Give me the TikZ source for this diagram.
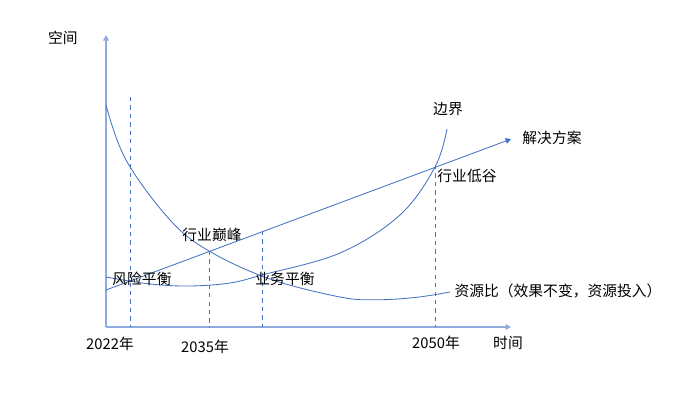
\documentclass[tikz,border=0pt]{standalone}
\usepackage{fontspec}
\setmainfont{Noto Sans CJK SC}
\usetikzlibrary{arrows.meta}
\definecolor{curveblue}{HTML}{4472C4}
\definecolor{axisblue}{HTML}{8FAADC}

\begin{document}
\begin{tikzpicture}[
  axis/.style={axisblue, line width=1.2pt, -{Triangle[length=4pt,width=4pt]}},
  curve/.style={curveblue, line width=0.6pt},
  guide/.style={curveblue, dashed, line width=0.6pt},
  lbl/.style={font=\fontsize{10.5}{12}\selectfont, inner sep=0pt}
]
\useasboundingbox (0,0) rectangle (17.25,9.825);
%\draw[step=0.5cm,gray,very thin] (0,0) grid (17,9); %background grid
%axes
\coordinate (o) at (2.65,1.65);
\coordinate (ytop) at (2.65,8.95);
\coordinate (xend) at (12.78,1.65);
\draw[axis] (o) -- (ytop);
\draw[axis] (o) -- (xend);
\node[lbl] (space) at (1.575,8.875) {空间};
\node[lbl] (time) at (12.7,1.25) {时间};
%years
\node[lbl] (y2022) at (2.75,1.225) {2022年};
\node[lbl] (y2035) at (5.125,1.15) {2035年};
\node[lbl] (y2050) at (10.9,1.25) {2050年};
%guide lines
\coordinate (g1) at (3.25,7.4);
\coordinate (g2) at (5.225,3.55);
\coordinate (g3) at (6.55,4.05);
\coordinate (g4) at (10.875,5.7);
\draw[guide] (g1) -- (g1 |- o);
\draw[guide] (g2) -- (g2 |- o);
\draw[guide] (g3) -- (g3 |- o);
\draw[guide] (g4) -- (g4 |- o);
%solution line
\coordinate (s0) at (2.65,2.575);
\coordinate (s1) at (12.78,6.35);
\draw[curve, -{Triangle[length=4pt,width=4pt]}] (s0) -- (s1);
\node[lbl] (solution) at (13.8,6.375) {解决方案};
%resource ratio
\draw[curve] plot[smooth, tension=0.6] coordinates {(2.65,7.2) (3.15,5.825) (4.25,4.325)
  (5.225,3.55) (6.75,2.85) (8.5,2.4) (9.4,2.33) (10.4,2.39) (11.25,2.525)};
\node[lbl] (ratio) at (13.95,2.55) {资源比（效果不变，资源投入）};
%boundary
\draw[curve] plot[smooth, tension=0.6] coordinates {(2.65,2.9) (3.75,2.725) (4.75,2.675)
  (5.75,2.75) (6.55,2.95) (8.5,3.5) (10,4.45) (10.875,5.65) (11.175,6.6)};
\node[lbl] (bound) at (11.2,7.1) {边界};
%points
\node[lbl] (risk) at (3.55,2.85) {风险平衡};
\node[lbl] (peak) at (5.3,3.95) {行业巅峰};
\node[lbl] (biz) at (7.125,2.85) {业务平衡};
\node[lbl] (low) at (11.675,5.425) {行业低谷};
\end{tikzpicture}
\end{document}
